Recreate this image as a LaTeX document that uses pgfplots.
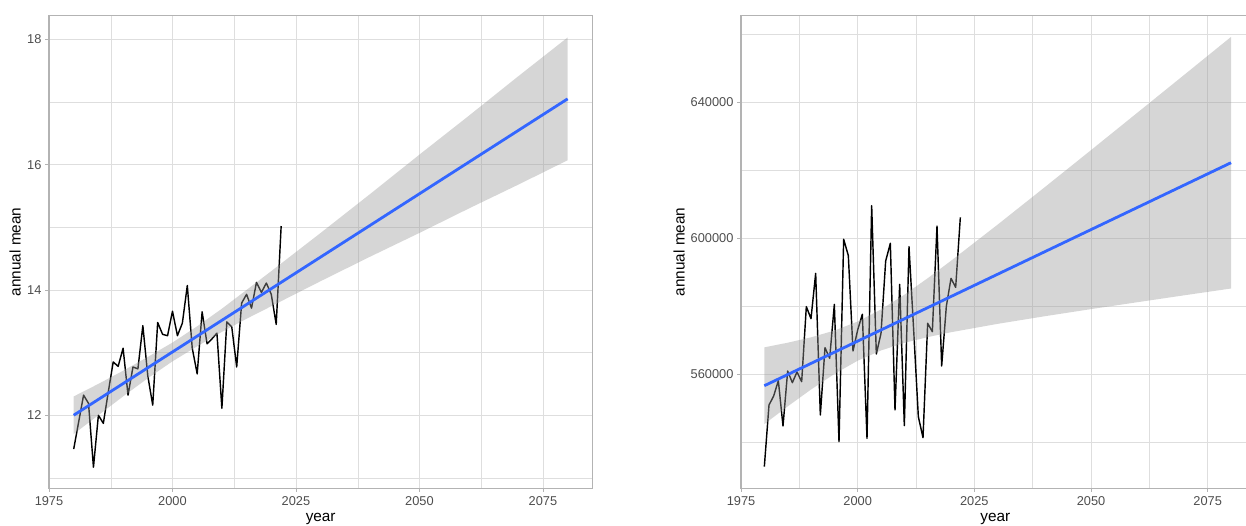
\documentclass[border=0pt]{standalone}
\usepackage{fontspec}
\setmainfont{Liberation Sans}
\usepackage{pgfplots}
\pgfplotsset{compat=1.18}
\definecolor{grey87}{HTML}{DEDEDE}
\definecolor{grey70}{HTML}{B3B3B3}
\definecolor{grey30}{HTML}{4D4D4D}
\definecolor{grey60}{HTML}{999999}
\definecolor{smoothblue}{HTML}{3366FF}
\pgfplotsset{
  gg/.style={
    scale only axis,
    scaled x ticks=false,
    scaled y ticks=false,
    axis line style={grey70, line width=1.07pt},
    grid=both,
    major grid style={grey87, line width=0.55pt},
    minor grid style={grey87, line width=0.3pt},
    tick style={grey70, line width=0.55pt},
    major tick length=2.75pt,
    minor tick length=0pt,
    tick align=outside,
    tick pos=left,
    xtick={1975,2000,2025,2050,2075},
    xticklabels={1975,2000,2025,2050,2075},
    minor xtick={1987.5,2012.5,2037.5,2062.5},
    tick label style={font=\fontsize{9.6}{11}\selectfont, text=grey30},
    xticklabel style={inner sep=0pt, anchor=north, yshift=-3pt},
    yticklabel style={inner sep=0pt, anchor=east, xshift=-2.75pt},
    label style={font=\fontsize{11.5}{13}\selectfont, text=black},
    xlabel={year},
    xlabel style={at={(axis description cs:0.5,0)}, anchor=base, yshift=-25pt},
    ylabel={annual mean},
  }
}
\begin{document}
\begin{tikzpicture}
\path[use as bounding box] (0,0) rectangle (934.5pt,393.75pt);
\clip (0,0) rectangle (934.5pt,393.75pt);
\begin{axis}[gg, at={(36.75pt,27.5pt)}, anchor=south west,
  width=407.5pt, height=354.75pt,
  xmin=1975, xmax=2085, ymin=10.833, ymax=18.383,
  ytick={12,14,16,18}, yticklabels={12,14,16,18},
  minor ytick={11,13,15,17},
  ylabel style={at={(axis description cs:-0.0521,0.5)}, anchor=base}]
\addplot[black, line width=1.07pt, line join=round] coordinates {
(1980,11.46) (1981,11.89) (1982,12.32) (1983,12.19) (1984,11.17) (1985,12.00)
(1986,11.87) (1987,12.37) (1988,12.85) (1989,12.78) (1990,13.07) (1991,12.32)
(1992,12.77) (1993,12.74) (1994,13.43) (1995,12.63) (1996,12.16) (1997,13.48)
(1998,13.29) (1999,13.27) (2000,13.66) (2001,13.27) (2002,13.47) (2003,14.07)
(2004,13.07) (2005,12.66) (2006,13.65) (2007,13.14) (2008,13.22) (2009,13.31)
(2010,12.11) (2011,13.49) (2012,13.41) (2013,12.77) (2014,13.79) (2015,13.93)
(2016,13.71) (2017,14.12) (2018,13.96) (2019,14.11) (2020,13.93) (2021,13.45)
(2022,15.02)};
\addplot[fill=grey60, fill opacity=0.4, draw=none] coordinates {
(1980,12.30) (1985,12.50) (1990,12.71) (1995,12.93) (2000,13.16) (2005,13.42)
(2010,13.70) (2015,14.00) (2020,14.30) (2030,14.91) (2040,15.53) (2050,16.16)
(2060,16.78) (2070,17.41) (2080,18.03)
(2080,16.07) (2070,15.68) (2060,15.30) (2050,14.91) (2040,14.53) (2030,14.14)
(2020,13.74) (2015,13.54) (2010,13.33) (2005,13.10) (2000,12.86) (1995,12.59)
(1990,12.30) (1985,12.00) (1980,11.70)};
\addplot[smoothblue, line width=2.1pt] coordinates {(1980,12.00) (2080,17.05)};
\end{axis}
\begin{axis}[gg, at={(555.75pt,27.5pt)}, anchor=south west,
  width=381.5pt, height=354.75pt,
  xmin=1975, xmax=2084, ymin=526470, ymax=665590,
  ytick={560000,600000,640000}, yticklabels={560000,600000,640000},
  minor ytick={540000,580000,620000,660000},
  ylabel style={at={(axis description cs:-0.111,0.5)}, anchor=base}]
\addplot[black, line width=1.07pt, line join=round] coordinates {
(1980,532843) (1981,550980) (1982,553627) (1983,558137) (1984,544804) (1985,560980)
(1986,557549) (1987,560686) (1988,557843) (1989,579902) (1990,576373) (1991,589706)
(1992,548039) (1993,567843) (1994,564706) (1995,580588) (1996,540196) (1997,599706)
(1998,594902) (1999,566863) (2000,573039) (2001,577647) (2002,541176) (2003,609608)
(2004,565980) (2005,572059) (2006,593333) (2007,598529) (2008,549510) (2009,586471)
(2010,544902) (2011,597549) (2012,573000) (2013,547549) (2014,541373) (2015,575000)
(2016,572549) (2017,603627) (2018,562451) (2019,580000) (2020,588235) (2021,585588)
(2022,606176)};
\addplot[fill=grey60, fill opacity=0.4, draw=none] coordinates {
(1980,567938) (1985,569297) (1990,570882) (1995,572866) (2000,575528) (2005,579080)
(2010,583405) (2015,588262) (2020,593390) (2030,604042) (2040,614942) (2050,625944)
(2060,637021) (2070,648116) (2080,659240)
(2080,585240) (2070,583246) (2060,581223) (2050,579182) (2040,577066) (2030,574848)
(2020,572382) (2015,570950) (2010,569249) (2005,567016) (2000,564008) (1995,560110)
(1990,555536) (1985,550563) (1980,545362)};
\addplot[smoothblue, line width=2.1pt] coordinates {(1980,556650) (2080,622240)};
\end{axis}
\end{tikzpicture}
\end{document}
